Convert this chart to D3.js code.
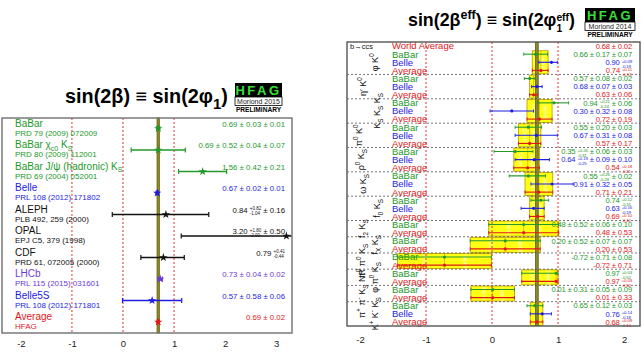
<!DOCTYPE html>
<html><head><meta charset="utf-8">
<script src="https://cdn.jsdelivr.net/npm/d3@7"></script>
<style>
body{margin:0;background:#fff}
svg{display:block}
text{font-family:"Liberation Sans",Arial,Helvetica,sans-serif;white-space:pre}
</style>
</head><body>
<svg id="c" width="642" height="359"></svg>
<script>
// ---------------- LEFT PANEL DATA: sin(2beta) charmonium ----------------
const leftNames  = ["BaBar","BaBar χ_{c0} K_{S}","BaBar J/ψ (hadronic) K_{S}","Belle","ALEPH","OPAL","CDF","LHCb","Belle5S","Average"];
const leftRefs   = ["PRD 79 (2009) 072009","PRD 80 (2009) 112001","PRD 69 (2004) 052001","PRL 108 (2012) 171802","PLB 492, 259 (2000)","EPJ C5, 379 (1998)","PRD 61, 072005 (2000)","PRL 115 (2015) 031601","PRL 108 (2012) 171801","HFAG"];
const leftKinds  = ["BaBar","BaBar","BaBar","Belle","Other","Other","Other","LHCb","Belle","Average"];
const leftValues = [0.69, 0.69, 1.56, 0.67, 0.84, 3.20, 0.79, 0.73, 0.57, 0.69];
const leftErrHi  = [0.03, 0.53, 0.47, 0.02, 0.84, 1.87, 0.41, 0.04, 0.58, 0.02];
const leftErrLo  = [0.03, 0.53, 0.47, 0.02, 1.05, 2.06, 0.44, 0.04, 0.58, 0.02];
const leftText   = ["0.69 ± 0.03 ± 0.01","0.69 ± 0.52 ± 0.04 ± 0.07","1.56 ± 0.42 ± 0.21","0.67 ± 0.02 ± 0.01",
                    "0.84 {+0.82|-1.04} ± 0.16","3.20 {+1.80|-2.00} ± 0.50","0.79 {+0.41|-0.44}",
                    "0.73 ± 0.04 ± 0.02","0.57 ± 0.58 ± 0.06","0.69 ± 0.02"];
const leftAverage = {value:0.69, err:0.02};
const leftTicks = [-2,-1,0,1,2,3];

// ---------------- RIGHT PANEL DATA: sin(2beta_eff) b->qqs ----------------
const groupLabels = ["φ K^{0}","η′ K^{0}","K_{S} K_{S} K_{S}","π^{0} K^{0}","ρ^{0} K_{S}","ω K_{S}","f_{0} K_{S}",
                     "f_{2} K_{S}","f_{X} K_{S}","π^{0} π^{0} K_{S}","φ π^{0} K_{S}","π^{+} π^{-} K_{S} NR","K^{+} K^{-} K_{S}"];
const rowGroup = [-1, 0,0,0, 1,1,1, 2,2,2, 3,3,3, 4,4,4, 5,5,5, 6,6,6, 7,7, 8,8, 9,9, 10,10, 11,11, 12,12,12];
const rowExp = ["World Average",
  "BaBar","Belle","Average", "BaBar","Belle","Average", "BaBar","Belle","Average",
  "BaBar","Belle","Average", "BaBar","Belle","Average", "BaBar","Belle","Average",
  "BaBar","Belle","Average", "BaBar","Average", "BaBar","Average", "BaBar","Average",
  "BaBar","Average", "BaBar","Average", "BaBar","Belle","Average"];
const rowVal = [0.68, 0.66,0.90,0.74, 0.57,0.68,0.63, 0.94,0.30,0.72, 0.55,0.67,0.57, 0.35,0.64,0.54,
  0.55,0.91,0.71, 0.74,0.63,0.69, 0.48,0.48, 0.20,0.20, -0.72,-0.72, 0.97,0.97, 0.01,0.01, 0.65,0.76,0.68];
const rowErrHi = [0.02, 0.18,0.09,0.11, 0.08,0.08,0.06, 0.22,0.33,0.19, 0.20,0.32,0.17, 0.27,0.23,0.18,
  0.26,0.32,0.21, 0.12,0.16,0.10, 0.53,0.53, 0.53,0.53, 0.71,0.71, 0.03,0.03, 0.33,0.33, 0.12,0.14,0.09];
const rowErrLo = [0.02, 0.18,0.19,0.13, 0.08,0.08,0.06, 0.25,0.33,0.19, 0.20,0.32,0.17, 0.32,0.29,0.21,
  0.29,0.32,0.21, 0.15,0.19,0.12, 0.53,0.53, 0.53,0.53, 0.71,0.71, 0.52,0.52, 0.33,0.33, 0.12,0.18,0.10];
const rowText = ["0.68 ± 0.02",
  "0.66 ± 0.17 ± 0.07","0.90 {+0.09|-0.19}","0.74 {+0.11|-0.13}",
  "0.57 ± 0.08 ± 0.02","0.68 ± 0.07 ± 0.03","0.63 ± 0.06",
  "0.94 {+0.21|-0.24} ± 0.06","0.30 ± 0.32 ± 0.08","0.72 ± 0.19",
  "0.55 ± 0.20 ± 0.03","0.67 ± 0.31 ± 0.08","0.57 ± 0.17",
  "0.35 {+0.26|-0.31} ± 0.06 ± 0.03","0.64 {+0.19|-0.25} ± 0.09 ± 0.10","0.54 {+0.18|-0.21}",
  "0.55 {+0.26|-0.29} ± 0.02","0.91 ± 0.32 ± 0.05","0.71 ± 0.21",
  "0.74 {+0.12|-0.15}","0.63 {+0.16|-0.19}","0.69 {+0.10|-0.12}",
  "0.48 ± 0.52 ± 0.06 ± 0.10","0.48 ± 0.53",
  "0.20 ± 0.52 ± 0.07 ± 0.07","0.20 ± 0.53",
  "-0.72 ± 0.71 ± 0.08","-0.72 ± 0.71",
  "0.97 {+0.03|-0.52}","0.97 {+0.03|-0.52}",
  "0.01 ± 0.31 ± 0.05 ± 0.09","0.01 ± 0.33",
  "0.65 ± 0.12 ± 0.03","0.76 {+0.14|-0.18}","0.68 {+0.09|-0.10}"];
const worldAverage = {value:0.68, err:0.02};
const rightTicks = [-2,-1,0,1,2];

// ---------------- styling ----------------
const colors = {BaBar:"#23992a", Belle:"#1c1ce0", Average:"#e01818", "World Average":"#e01818", Other:"#111111", LHCb:"#6a3ad8"};
const svg = d3.select("#c");

function rich(parent, str, fs, color, anchor, opts) {
  opts = opts || {};
  const g = parent.append("g");
  const re = /\{([^{}|]*)\|([^{}]*)\}|_\{([^{}]*)\}|\^\{([^{}]*)\}/g;
  let last = 0, m, cur = 0;
  const add = (t, x, y, size) => {
    const el = g.append("text").attr("x", x).attr("y", y).attr("font-size", size).attr("fill", color).text(t);
    if (opts.family) el.attr("font-family", opts.family);
    if (opts.weight) el.attr("font-weight", opts.weight);
    if (opts.ls != null) el.attr("letter-spacing", opts.ls);
    return el.node().getComputedTextLength();
  };
  while ((m = re.exec(str))) {
    if (m.index > last) cur += add(str.slice(last, m.index), cur, 0, fs);
    if (m[1] !== undefined) {
      const a = add(m[1], cur, -0.3 * fs, fs * 0.58), b = add(m[2], cur, 0.36 * fs, fs * 0.58);
      cur += Math.max(a, b);
    } else if (m[3] !== undefined) {
      cur += add(m[3], cur, 0.28 * fs, fs * (opts.subScale || 0.7));
    } else {
      cur += add(m[4], cur, -0.4 * fs, fs * 0.7);
    }
    last = re.lastIndex;
  }
  if (last < str.length) cur += add(str.slice(last), cur, 0, fs);
  const shift = anchor === "end" ? -cur : anchor === "middle" ? -cur / 2 : 0;
  g.attr("transform", `translate(${shift},0)`);
  g.property("w", cur);
  return cur;
}

function title(x, y, str, targetW, subScale) {
  const probe = svg.append("g");
  const w = rich(probe, str, 20, "#000", "start", {family:"Liberation Serif, Times New Roman, serif", weight:"bold", subScale});
  probe.remove();
  const fs = 20 * targetW / w;
  const g = svg.append("g").attr("transform", `translate(${x},${y})`);
  rich(g, str, fs, "#000", "start", {family:"Liberation Serif, Times New Roman, serif", weight:"bold", subScale});
}

function logo(x, y, w, edition) {
  const g = svg.append("g").attr("transform", `translate(${x},${y})`);
  g.append("rect").attr("width", w).attr("height", 14).attr("fill", "#000");
  g.append("text").attr("x", w / 2).attr("y", 11.5).attr("text-anchor", "middle").attr("font-size", 13)
    .attr("font-weight", "bold").attr("letter-spacing", 2.5).attr("fill", "#36e036").text("HFAG");
  g.append("rect").attr("y", 14).attr("width", w).attr("height", 8.5).attr("fill", "#fff").attr("stroke", "#000").attr("stroke-width", 0.8);
  g.append("text").attr("x", w / 2).attr("y", 21).attr("text-anchor", "middle").attr("font-size", 7).attr("fill", "#222").text(edition);
  g.append("text").attr("x", w / 2).attr("y", 28.5).attr("text-anchor", "middle").attr("font-size", 6.6).attr("font-weight", "bold").attr("fill", "#000").text("PRELIMINARY");
}

// ================= LEFT PANEL =================
const L = {x0:2, x1:292, y0:118, y1:333};
const xL = d3.scaleLinear().domain([-2.37, 3.31]).range([L.x0, L.x1]);
const yL = d3.scaleBand().domain(d3.range(leftNames.length)).range([L.y0, L.y1]);
svg.append("clipPath").attr("id", "clipL").append("rect").attr("x", L.x0).attr("y", L.y0).attr("width", L.x1 - L.x0).attr("height", L.y1 - L.y0);

title(65, 103, "sin(2β) ≡ sin(2φ_{1})", 163, 0.75);
logo(235, 83, 47, "Moriond 2015");

const gL = svg.append("g");
gL.append("rect").attr("x", L.x0).attr("y", L.y0).attr("width", L.x1 - L.x0).attr("height", L.y1 - L.y0).attr("fill", "#fff");
gL.selectAll("line.ref").data([-1, 0, 1]).join("line").attr("class", "ref")
  .attr("x1", d => xL(d)).attr("x2", d => xL(d)).attr("y1", L.y0).attr("y2", L.y1)
  .attr("stroke", "#e03030").attr("stroke-width", 1).attr("stroke-dasharray", "2,2");
gL.append("rect").attr("x", xL(leftAverage.value - leftAverage.err)).attr("y", L.y0)
  .attr("width", xL(leftAverage.value + leftAverage.err) - xL(leftAverage.value - leftAverage.err)).attr("height", L.y1 - L.y0)
  .attr("fill", "#9c9a2c").attr("stroke", "#6e6c18").attr("stroke-width", 1.2);

const barsL = gL.append("g").attr("clip-path", "url(#clipL)");
leftNames.forEach((name, i) => {
  const c = colors[leftKinds[i]];
  const yb = yL(i) + 10.5;
  const a = xL(leftValues[i] - leftErrLo[i]), b = xL(leftValues[i] + leftErrHi[i]);
  barsL.append("line").attr("x1", a).attr("x2", b).attr("y1", yb).attr("y2", yb).attr("stroke", c).attr("stroke-width", 1.3);
  [a, b].forEach(x => barsL.append("line").attr("x1", x).attr("x2", x).attr("y1", yb - 2.5).attr("y2", yb + 2.5).attr("stroke", c).attr("stroke-width", 1.2));
  barsL.append("path").attr("d", d3.symbol(d3.symbolStar, 22)()).attr("transform", `translate(${xL(leftValues[i])},${yb})`).attr("fill", c);
  const gn = gL.append("g").attr("transform", `translate(15,${yL(i) + 8.5})`);
  rich(gn, name, 10, c, "start");
  gL.append("text").attr("x", 15).attr("y", yL(i) + 17.5).attr("font-size", 8).attr("fill", c).text(leftRefs[i]);
  const gv = gL.append("g").attr("transform", `translate(285,${yL(i) + 8.5})`);
  rich(gv, leftText[i], 7.8, c, "end");
});
gL.append("rect").attr("x", L.x0).attr("y", L.y0).attr("width", L.x1 - L.x0).attr("height", L.y1 - L.y0)
  .attr("fill", "none").attr("stroke", "#7a7a7a").attr("stroke-width", 1.5);
const axL = gL.append("g").attr("transform", `translate(0,${L.y1})`)
  .call(d3.axisBottom(xL).tickValues(leftTicks).tickSize(0).tickPadding(7).tickFormat(d => String(d)));
axL.select(".domain").remove();
axL.selectAll("text").attr("font-size", 9.5).attr("fill", "#222").attr("font-family", "Liberation Sans, Arial, sans-serif");

// ================= RIGHT PANEL =================
const R = {x0:347, x1:640, y0:42, y1:326};
const xR = d3.scaleLinear().domain([-2.197, 2.242]).range([R.x0, R.x1]);
const yR = d3.scaleBand().domain(d3.range(rowExp.length)).range([R.y0, R.y1]);
const st = yR.step();
svg.append("clipPath").attr("id", "clipR").append("rect").attr("x", R.x0).attr("y", R.y0).attr("width", R.x1 - R.x0).attr("height", R.y1 - R.y0);

title(408, 26, "sin(2β^{eff}) ≡ sin(2φ{eff|1})", 167);
logo(585, 8, 50, "Moriond 2014");

const gR = svg.append("g");
gR.append("rect").attr("x", R.x0).attr("y", R.y0).attr("width", R.x1 - R.x0).attr("height", R.y1 - R.y0).attr("fill", "#fff");
const inR = gR.append("g").attr("clip-path", "url(#clipR)");

// group extents
const groups = groupLabels.map((lab, g) => {
  const idx = rowGroup.map((v, i) => v === g ? i : -1).filter(i => i >= 0);
  return {lab, g, first: idx[0], last: idx[idx.length - 1]};
});
// yellow average boxes
groups.forEach(G => {
  const i = G.last;
  const a = xR(rowVal[i] - rowErrLo[i]), b = xR(rowVal[i] + rowErrHi[i]);
  const yt = yR(G.first) + 0.6, yb = yR(G.last) + st - 0.6;
  inR.append("rect").attr("x", a).attr("y", yt).attr("width", b - a).attr("height", yb - yt)
    .attr("fill", "#ffff14").attr("stroke", "#c2a400").attr("stroke-width", 0.9);
  inR.append("line").attr("x1", xR(rowVal[i])).attr("x2", xR(rowVal[i])).attr("y1", yt).attr("y2", yb)
    .attr("stroke", "#d8b800").attr("stroke-width", 0.8);
  if (b - a > 14) {
    [0.3, 0.72].forEach((f, k) => {
      inR.append("text").attr("transform", `translate(${a + (b - a) * f},${(yt + yb) / 2}) rotate(-90)`)
        .attr("text-anchor", "middle").attr("dy", "0.35em").attr("font-size", 5).attr("fill", "#fff").attr("opacity", 0.85)
        .text(k === 0 ? "HFAG" : "prelim.");
    });
  }
});
// separators
groups.forEach(G => {
  if (G.g === 0) return;
  gR.append("line").attr("x1", R.x0).attr("x2", R.x1).attr("y1", yR(G.first)).attr("y2", yR(G.first))
    .attr("stroke", "#555").attr("stroke-width", 0.8).attr("stroke-dasharray", "2,2");
});
// world average band
inR.append("rect").attr("x", xR(worldAverage.value - worldAverage.err)).attr("y", R.y0)
  .attr("width", xR(worldAverage.value + worldAverage.err) - xR(worldAverage.value - worldAverage.err)).attr("height", R.y1 - R.y0)
  .attr("fill", "#8e8c3c").attr("stroke", "#6a6820").attr("stroke-width", 1);
// red dotted reference lines
inR.selectAll("line.ref").data([-1, 0, 1]).join("line").attr("class", "ref")
  .attr("x1", d => xR(d)).attr("x2", d => xR(d)).attr("y1", R.y0).attr("y2", R.y1)
  .attr("stroke", "#e03030").attr("stroke-width", 1).attr("stroke-dasharray", "2,2");
// measurements
rowExp.forEach((e, i) => {
  const c = colors[e];
  const yc = yR(i) + st / 2;
  if (rowGroup[i] >= 0) {
    const a = xR(rowVal[i] - rowErrLo[i]), b = xR(rowVal[i] + rowErrHi[i]);
    inR.append("line").attr("x1", a).attr("x2", b).attr("y1", yc).attr("y2", yc).attr("stroke", c).attr("stroke-width", 1.1);
    [a, b].forEach(x => inR.append("line").attr("x1", x).attr("x2", x).attr("y1", yc - 1.6).attr("y2", yc + 1.6).attr("stroke", c).attr("stroke-width", 0.9));
    inR.append("circle").attr("cx", xR(rowVal[i])).attr("cy", yc).attr("r", 1.6).attr("fill", c);
  }
  gR.append("text").attr("x", 392).attr("y", yc + 3.4).attr("font-size", 9.5).attr("fill", c).text(e);
  const gv = gR.append("g").attr("transform", `translate(632,${yc + 2.7})`);
  rich(gv, rowText[i], 7.6, c, "end", {ls: -0.15});
});
gR.append("text").attr("x", 350).attr("y", R.y0 + st / 2 + 3).attr("font-size", 7.5).attr("fill", "#111").text("b→ccs");
// rotated group labels
const labelX = [375, 363, 377, 359, 361, 363, 377, 362, 375, 362, 375, 362, 375];
groups.forEach(G => {
  const yc = (yR(G.first) + yR(G.last) + st) / 2;
  const g = gR.append("g").attr("transform", `translate(${labelX[G.g] + 3},${yc}) rotate(-90)`);
  rich(g, G.lab, 9, "#111", "middle");
});
gR.append("rect").attr("x", R.x0).attr("y", R.y0).attr("width", R.x1 - R.x0).attr("height", R.y1 - R.y0)
  .attr("fill", "none").attr("stroke", "#555").attr("stroke-width", 1.4);
const axR = gR.append("g").attr("transform", `translate(0,${R.y1})`)
  .call(d3.axisBottom(xR).tickValues(rightTicks).tickSize(0).tickPadding(10).tickFormat(d => String(d)));
axR.select(".domain").remove();
axR.selectAll("text").attr("font-size", 9.5).attr("fill", "#222").attr("font-family", "Liberation Sans, Arial, sans-serif");
</script>
</body></html>
